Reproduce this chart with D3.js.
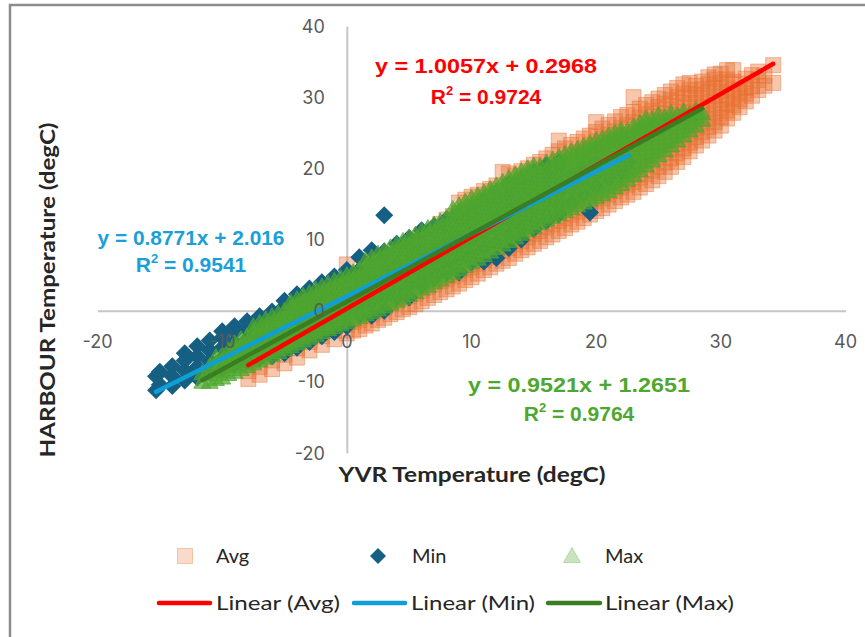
<!DOCTYPE html>
<html><head><meta charset="utf-8">
<script src="https://cdn.jsdelivr.net/npm/d3@7"></script>
<style>body{margin:0;background:#fff;} svg{display:block;}</style>
</head><body>
<svg id="chart" width="865" height="637"></svg>
<script>
// ---------- data ----------
const xTicks = [-20,-10,0,10,20,30,40];
const yTicks = [-20,-10,0,10,20,30,40];
const seriesNames = ["Avg","Min","Max"];
const trendNames = ["Linear (Avg)","Linear (Min)","Linear (Max)"];
const slopes = [1.0057, 0.8771, 0.9521];
const intercepts = [0.2968, 2.016, 1.2651];
const r2 = ["0.9724","0.9541","0.9764"];
const xTitle = "YVR Temperature (degC)";
const yTitle = "HARBOUR Temperature (degC)";

// Avg: YVR x value, with the HARBOUR y values read at that x
const avgX = [-7.9,-7,-6,-5,-4,-3,-2,-1,0,0.5,1,1.5,2,2.5,3,3.5,4,4.5,5,5.5,6,6.5,7,7.5,8,8.5,9,9.5,10,10.5,11,11.5,12,12.5,13,13.5,14,14.5,15,15.5,16,16.5,17,17.5,18,18.5,19,19.5,20,20.5,21,21.5,22,22.5,23,23.5,24,24.5,25,25.5,26,26.5,27,27.5,28,28.5,29,29.5,30,30.5,31,31.5,32,32.5,33,33.5,34.2];
const avgY = [
 [-9.6,-8.5,-7.4,-6.3],
 [-9.0,-7.9,-6.8,-5.7,-4.6],
 [-8.2,-7.0,-5.9,-4.8,-3.7],
 [-7.4,-6.2,-5.0,-3.9,-2.8],
 [-6.6,-5.3,-4.1,-3.0,-1.8,-0.8],
 [-5.6,-4.4,-3.2,-2.0,-0.9,0.2],
 [-4.8,-3.6,-2.4,-1.2,0.0,1.1],
 [-4.0,-2.8,-1.6,-0.4,0.8,1.9],
 [-3.2,-2.0,-0.8,0.4,1.6,2.8,6.5],
 [-2.8,-1.6,-0.3,1.0,2.2,3.4],
 [-2.6,-1.3,0.0,1.3,2.5,3.7],
 [-2.1,-0.8,0.5,1.8,3.1,4.3],
 [-1.8,-0.5,0.9,2.2,3.5,4.8],
 [-1.3,0.0,1.4,2.7,4.0,5.3],
 [-1.0,0.4,1.8,3.2,4.5,5.8],
 [-0.5,0.9,2.3,3.7,5.0,6.4],
 [-0.2,1.3,2.7,4.1,5.5,6.9],
 [0.2,1.7,3.1,4.6,6.0,7.4],
 [0.5,2.0,3.5,5.0,6.4,7.8,9.2],
 [0.9,2.4,3.9,5.4,6.9,8.3,9.6],
 [1.3,2.8,4.3,5.8,7.3,8.8,10.2],
 [1.8,3.3,4.8,6.3,7.8,9.3,10.7],
 [2.2,3.7,5.2,6.7,8.2,9.7,11.2],
 [2.6,4.1,5.5,7.0,8.4,9.9,11.3,12.2],
 [3.0,4.4,5.8,7.2,8.6,10.0,11.4,12.8],
 [3.4,4.8,6.2,7.7,9.1,10.5,11.9,13.3],
 [3.8,5.2,6.7,8.1,9.5,10.9,12.3,13.7,15.2],
 [4.3,5.7,7.1,8.5,9.9,11.3,12.7,14.1,15.6],
 [4.7,6.1,7.5,8.9,10.3,11.7,13.1,14.5,16.0],
 [5.2,6.6,8.0,9.4,10.8,12.2,13.6,15.0,16.3],
 [5.7,7.1,8.5,9.9,11.3,12.7,14.1,15.5,16.8],
 [6.1,7.5,8.9,10.3,11.7,13.1,14.5,15.9,17.1],
 [6.6,8.0,9.4,10.8,12.2,13.6,15.0,16.4,17.6],
 [7.0,8.4,9.8,11.2,12.6,14.0,15.4,16.8,19.5],
 [7.4,8.8,10.3,11.7,13.1,14.5,15.9,17.3,19.3],
 [8.0,9.3,10.7,12.1,13.5,14.9,16.3,17.7,19.0],
 [8.5,9.8,11.2,12.6,14.0,15.4,16.8,18.2,19.6],
 [8.9,10.3,11.7,13.1,14.5,15.9,17.3,18.7,20.0],
 [9.4,10.8,12.2,13.6,15.0,16.4,17.8,19.2,20.5],
 [9.8,11.2,12.6,14.0,15.4,16.8,18.2,19.6,20.9],
 [10.3,11.7,13.1,14.5,15.9,17.3,18.7,20.1,21.4],
 [10.7,12.1,13.5,14.9,16.3,17.7,19.1,20.5,21.9],
 [11.2,12.6,14.0,15.4,16.8,18.2,19.6,21.0,22.4,23.9],
 [11.6,13.0,14.4,15.8,17.2,18.6,20.0,21.4,22.8],
 [12.1,13.5,14.9,16.3,17.7,19.1,20.5,21.9,23.3],
 [12.5,13.9,15.3,16.7,18.1,19.5,20.9,22.3,23.7],
 [13.0,14.4,15.8,17.2,18.6,20.0,21.4,22.8,24.2],
 [13.5,14.9,16.3,17.7,19.1,20.5,21.9,23.3,24.6],
 [14.0,15.4,16.8,18.2,19.6,21.0,22.4,23.8,25.1,26.5],
 [14.4,15.8,17.2,18.6,20.0,21.4,22.8,24.2,25.6],
 [14.9,16.3,17.7,19.1,20.5,21.9,23.3,24.7,26.1],
 [15.4,16.8,18.2,19.6,21.0,22.4,23.8,25.2,26.6],
 [15.9,17.3,18.7,20.1,21.5,22.9,24.3,25.7,27.2],
 [16.3,17.7,19.1,20.5,21.9,23.3,24.7,26.1,27.5],
 [16.7,18.1,19.5,20.9,22.3,23.7,25.1,26.5,27.9,30.0],
 [17.3,18.7,20.1,21.5,22.9,24.3,25.7,27.1,28.4],
 [17.8,19.2,20.6,22.0,23.4,24.8,26.2,27.6,28.9],
 [18.3,19.7,21.1,22.5,23.9,25.3,26.7,28.1,29.3],
 [18.9,20.2,21.6,23.0,24.4,25.8,27.2,28.6,29.8],
 [19.5,20.8,22.2,23.5,24.9,26.3,27.7,29.1,30.3],
 [20.2,21.4,22.7,24.0,25.4,26.8,28.2,29.6,30.8],
 [20.9,22.1,23.4,24.7,26.0,27.4,28.7,30.0,31.3],
 [21.6,22.8,24.0,25.3,26.6,27.9,29.2,30.5,31.8],
 [22.4,23.6,24.8,26.0,27.3,28.6,29.8,31.0,32.0],
 [23.2,24.4,25.6,26.8,28.0,29.2,30.4,31.6],
 [23.9,25.1,26.3,27.5,28.7,29.9,31.1,32.2],
 [24.6,25.8,27.0,28.2,29.4,30.6,31.8,32.8],
 [25.3,26.5,27.7,28.9,30.1,31.3,32.5,33.2],
 [26.0,27.2,28.4,29.6,30.8,32.0,33.3],
 [27.0,28.1,29.2,30.3,31.4,32.5,33.8],
 [27.8,28.9,30.0,31.1,32.2,33.8],
 [28.6,29.7,30.8,31.9],
 [29.4,30.5,31.3,32.6],
 [30.2,31.5,33.1],
 [31.0,32.4,33.6],
 [31.6,33.0],
 [32.0,34.5]
];

const minX = [-15.3,-15,-14,-13,-12,-11,-10,-9,-8,-7,-6,-5,-4,-3,-2,-1,0,1,2,3,4,5,6,7,8,9,10,11,12,13,14,15,16,17,18,19,19.5,20,21,22,22.6];
const minY = [
 [-11.2,-9.2],
 [-10.4,-8.6],
 [-10.6,-9.2,-7.8],
 [-9.8,-8.4,-7.0,-6.0],
 [-9.4,-7.9,-6.4,-5.0],
 [-8.6,-7.1,-5.6,-4.2],
 [-8.2,-6.7,-5.2,-3.8,-2.9],
 [-7.6,-6.0,-4.5,-3.0,-2.2],
 [-7.0,-5.5,-4.0,-2.6,-1.5],
 [-6.6,-5.0,-3.5,-2.0,-0.8],
 [-6.4,-4.6,-3.0,-1.5,-0.1],
 [-6.0,-4.2,-2.5,-0.9,0.6,1.4],
 [-5.2,-3.5,-1.8,-0.1,1.4,2.3],
 [-4.4,-2.7,-1.0,0.6,2.1,3.1],
 [-3.6,-1.9,-0.2,1.4,3.0,4.0],
 [-3.0,-1.2,0.6,2.3,3.9,4.8],
 [-2.2,-0.4,1.4,3.1,4.8,5.7],
 [-0.6,0.4,2.2,4.0,5.7,7.5],
 [-0.7,1.2,3.0,4.8,6.6,8.5],
 [0.0,2.0,3.9,5.7,7.5,8.3,13.4],
 [1.9,2.8,4.7,6.5,8.3,9.4],
 [1.9,3.7,5.5,7.3,9.1,10.2],
 [3.6,4.6,6.4,8.2,10.0,11.3],
 [4.6,5.5,7.3,9.1,10.9,11.9],
 [5.4,6.4,8.2,10.0,11.8,12.8],
 [5.4,7.2,9.0,10.8,12.6,13.6],
 [6.8,8.0,9.9,11.8,13.5,14.6],
 [6.9,8.8,10.7,12.6,14.4,15.6],
 [7.4,9.6,11.5,13.4,15.3,16.6],
 [8.8,10.6,12.5,14.4,16.2,17.8],
 [10.0,11.6,13.4,15.2,17.0,18.5],
 [11.5,12.6,14.4,16.2,18.0,19.4],
 [12.6,13.6,15.3,17.0,18.8,20.4],
 [13.6,14.8,16.4,18.0,19.6,20.8],
 [15.2,17.3,19.2],
 [16.4,18.3,20.0],
 [13.8],
 [17.4,19.2,20.8],
 [18.6,20.4],
 [19.6,21.2],
 [21.0]
];

const maxX = [-11.6,-11,-10.5,-10,-9.5,-9,-8.5,-8,-7.5,-7,-6.5,-6,-5.5,-5,-4.5,-4,-3.5,-3,-2.5,-2,-1.5,-1,-0.5,0,0.5,1,1.5,2,2.5,3,3.5,4,4.5,5,5.5,6,6.5,7,7.5,8,8.5,9,9.5,10,10.5,11,11.5,12,12.5,13,13.5,14,14.5,15,15.5,16,16.5,17,17.5,18,18.5,19,19.5,20,20.5,21,21.5,22,22.5,23,23.5,24,24.5,25,25.5,26,26.5,27,27.5,28,28.5];
const maxY = [
 [-10.0,-8.8],
 [-10.0,-8.9,-7.8],
 [-9.6,-8.5,-7.4,-6.5],
 [-9.4,-8.3,-7.2,-6.2],
 [-8.9,-7.8,-6.7,-5.6],
 [-8.6,-7.5,-6.4,-5.3,-4.6],
 [-8.2,-7.1,-6.0,-4.9,-4.0],
 [-7.8,-6.7,-5.6,-4.5,-3.6],
 [-7.4,-6.3,-5.2,-4.1,-3.0,-2.2],
 [-7.0,-5.9,-4.8,-3.7,-2.6,-1.7],
 [-6.6,-5.5,-4.4,-3.3,-2.2,-1.2],
 [-6.2,-5.1,-4.0,-2.9,-1.8,-0.8],
 [-5.8,-4.7,-3.6,-2.5,-1.4,-0.4],
 [-5.4,-4.3,-3.2,-2.1,-1.0,0.0],
 [-5.0,-3.9,-2.8,-1.7,-0.6,0.4,1.2],
 [-4.6,-3.5,-2.4,-1.3,-0.2,0.8,1.6],
 [-4.2,-3.1,-2.0,-0.9,0.2,1.2,2.1],
 [-3.8,-2.7,-1.6,-0.5,0.6,1.6,2.5],
 [-3.4,-2.3,-1.2,-0.1,1.0,2.0,3.0],
 [-3.0,-1.9,-0.8,0.3,1.4,2.5,3.4],
 [-2.6,-1.5,-0.4,0.7,1.8,2.8,3.8],
 [-2.3,-1.2,-0.1,1.0,2.1,3.2,4.2],
 [-1.9,-0.8,0.3,1.4,2.5,3.6,4.6],
 [-1.6,-0.4,0.7,1.8,2.9,4.0,5.0],
 [-1.2,-0.1,1.0,2.1,3.2,4.3,5.4],
 [-0.9,0.3,1.4,2.5,3.6,4.7,5.8],
 [-0.5,0.6,1.8,2.9,4.0,5.1,6.2,7.1],
 [-0.2,1.0,2.2,3.3,4.4,5.5,6.6,7.5],
 [0.2,1.4,2.6,3.7,4.8,5.9,7.0,8.0],
 [0.6,1.8,3.0,4.1,5.2,6.3,7.4,8.4],
 [1.0,2.2,3.4,4.6,5.7,6.8,7.9,8.9],
 [1.4,2.6,3.8,5.0,6.1,7.2,8.3,9.3],
 [1.8,3.0,4.2,5.4,6.6,7.7,8.8,9.8],
 [2.2,3.4,4.6,5.8,7.0,8.1,9.2,10.3],
 [2.6,3.8,5.0,6.2,7.4,8.5,9.6,10.7],
 [3.1,4.3,5.5,6.7,7.9,9.0,10.1,11.2],
 [3.5,4.7,5.9,7.1,8.3,9.4,10.5,11.6],
 [4.0,5.2,6.4,7.6,8.8,9.9,11.0,12.1],
 [4.4,5.6,6.8,8.0,9.2,10.3,11.4,12.5],
 [4.9,6.1,7.3,8.5,9.7,10.8,11.9,13.0],
 [5.3,6.5,7.7,8.9,10.1,11.2,12.3,13.4,14.3],
 [5.8,7.0,8.2,9.4,10.6,11.7,12.8,13.9,14.8],
 [6.3,7.5,8.7,9.9,11.1,12.2,13.3,14.4,15.3],
 [6.8,8.0,9.2,10.4,11.6,12.7,13.8,14.9,15.8],
 [7.3,8.5,9.7,10.9,12.0,13.1,14.2,15.3,16.2],
 [7.8,9.0,10.2,11.4,12.5,13.6,14.7,15.8,16.6],
 [8.3,9.5,10.7,11.9,13.0,14.1,15.2,16.3,17.1],
 [8.8,10.0,11.2,12.4,13.5,14.6,15.7,16.8,17.6],
 [9.3,10.5,11.7,12.9,14.0,15.1,16.2,17.3,18.1],
 [9.8,11.0,12.2,13.4,14.5,15.6,16.7,17.8,18.6],
 [10.3,11.5,12.7,13.9,15.0,16.1,17.2,18.3,19.1],
 [10.8,12.0,13.2,14.4,15.5,16.6,17.7,18.8,19.6],
 [11.3,12.5,13.7,14.9,16.0,17.1,18.2,19.3,20.0],
 [11.8,13.0,14.2,15.4,16.5,17.6,18.7,19.8,20.4],
 [12.3,13.5,14.7,15.9,17.0,18.1,19.2,20.3],
 [12.8,14.0,15.2,16.4,17.5,18.6,19.7,20.8],
 [13.2,14.4,15.6,16.8,18.0,19.1,20.2,21.2],
 [13.6,14.8,16.0,17.2,18.4,19.5,20.6,21.6],
 [14.0,15.2,16.4,17.6,18.8,19.9,21.0,22.0],
 [14.4,15.6,16.8,18.0,19.2,20.3,21.4,22.4],
 [14.8,16.0,17.2,18.4,19.6,20.7,21.8,22.7],
 [15.2,16.4,17.6,18.8,20.0,21.1,22.2,23.1],
 [15.6,16.8,18.0,19.2,20.4,21.5,22.6,23.5],
 [16.0,17.2,18.4,19.6,20.8,21.9,23.0,23.9],
 [16.4,17.6,18.8,20.0,21.2,22.3,23.4,24.2],
 [16.8,18.0,19.2,20.4,21.6,22.7,23.8,24.6],
 [17.3,18.5,19.7,20.9,22.1,23.2,24.2,25.0],
 [17.8,19.0,20.2,21.4,22.6,23.7,24.7,25.4],
 [18.4,19.6,20.8,22.0,23.2,24.3,25.3],
 [19.0,20.2,21.4,22.6,23.8,24.9,25.9],
 [19.7,20.9,22.1,23.3,24.5,25.6,26.4],
 [20.4,21.6,22.8,24.0,25.2,26.3,27.0],
 [21.1,22.3,23.5,24.7,25.9,26.9],
 [21.8,23.0,24.2,25.4,26.6,27.5],
 [22.5,23.7,24.9,26.1,27.2],
 [23.2,24.4,25.6,26.8,27.8],
 [23.9,25.1,26.3,27.4],
 [24.6,25.8,27.0,28.0],
 [25.3,26.5,27.6],
 [26.0,27.2,28.2],
 [26.8,27.8]
];

// ---------- drawing ----------
const svg = d3.select("#chart");
const FONT = "Lato, Inter, 'Open Sans', sans-serif";
const TICKFONT = "Inter, 'Open Sans', sans-serif";
const EQFONT = "'Liberation Sans', Arial, sans-serif";
const x = d3.scaleLinear().domain([-20,40]).range([97.5,845.5]);
const y = d3.scaleLinear().domain([-20,40]).range([453,26]);

// frame
svg.append("rect").attr("x",10).attr("y",5).attr("width",880).attr("height",660)
  .attr("fill","#fff").attr("stroke","#8c8c8c").attr("stroke-width",2.5);

// axis lines (below data)
const gx = svg.append("g").attr("transform",`translate(0,${y(0)})`)
  .call(d3.axisBottom(x).tickValues(xTicks).tickSize(0).tickSizeOuter(0).tickFormat(""));
const gy = svg.append("g").attr("transform",`translate(${x(0)},0)`)
  .call(d3.axisLeft(y).tickValues(yTicks).tickSize(0).tickSizeOuter(0).tickFormat(""));
[gx,gy].forEach(g=>g.select(".domain").attr("stroke","#c6c6c6").attr("stroke-width",2));

const toPts = (xs,ys)=>xs.flatMap((xv,i)=>ys[i].map(yv=>[xv,yv]));
const avgPts = toPts(avgX,avgY), minPts = toPts(minX,minY), maxPts = toPts(maxX,maxY);

const orange = "#E97132", navy = "#156082", green = "#4EA72E";
const sq = "M-7.5,-7.5H7.5V7.5H-7.5Z";
const dia = "M0,-9L9,0L0,9L-9,0Z";
const tri = "M0,-8.5L8.5,6.5L-8.5,6.5Z";

svg.append("g").selectAll("path").data(avgPts).join("path")
  .attr("d",sq).attr("transform",d=>`translate(${x(d[0])},${y(d[1])})`)
  .attr("fill",orange).attr("fill-opacity",0.4)
  .attr("stroke",orange).attr("stroke-opacity",0.45).attr("stroke-width",1);
svg.append("g").selectAll("path").data(minPts).join("path")
  .attr("d",dia).attr("transform",d=>`translate(${x(d[0])},${y(d[1])})`)
  .attr("fill",navy);
svg.append("g").selectAll("path").data(maxPts).join("path")
  .attr("d",tri).attr("transform",d=>`translate(${x(d[0])},${y(d[1])})`)
  .attr("fill",green).attr("fill-opacity",0.7)
  .attr("stroke",green).attr("stroke-opacity",0.7).attr("stroke-width",1);

// trend lines
const trendColors = ["#FF0000","#0F9ED5","#3B7D23"];
const xsets = [avgX,minX,maxX];
xsets.forEach((xs,i)=>{
  const [a,b] = d3.extent(xs);
  svg.append("line")
    .attr("x1",x(a)).attr("y1",y(slopes[i]*a+intercepts[i]))
    .attr("x2",x(b)).attr("y2",y(slopes[i]*b+intercepts[i]))
    .attr("stroke",trendColors[i]).attr("stroke-width",4.5).attr("stroke-linecap","round");
});

// tick labels (on top)
svg.append("g").selectAll("text").data(xTicks).join("text")
  .attr("x",d=>x(d)).attr("y",y(0)+37).attr("text-anchor","middle")
  .attr("font-family",TICKFONT).attr("font-size",18).attr("fill","#595959").text(d=>d);
svg.append("g").selectAll("text").data(yTicks).join("text")
  .attr("x",x(0)-22).attr("y",d=>y(d)+6.5).attr("text-anchor","end")
  .attr("font-family",TICKFONT).attr("font-size",18).attr("fill","#595959").text(d=>d);

// axis titles
svg.append("text").attr("x",472).attr("y",482).attr("text-anchor","middle")
  .attr("font-family",FONT).attr("font-weight","bold").attr("font-size",20).attr("fill","#262626")
  .attr("textLength",267).attr("lengthAdjust","spacingAndGlyphs").text(xTitle);
svg.append("text").attr("transform","translate(55,290) rotate(-90)").attr("text-anchor","middle")
  .attr("font-family",FONT).attr("font-weight","bold").attr("font-size",20).attr("fill","#262626")
  .attr("textLength",335).attr("lengthAdjust","spacingAndGlyphs").text(yTitle);

// trendline equations
const eqColors = ["#FF0000","#1A9FD9","#4EA72E"];
const eqPos = [[486,73,104,222,125],[191,245,272,187,112],[579,392,421,222,124]];
eqPos.forEach((p,i)=>{
  svg.append("text").attr("x",p[0]).attr("y",p[1]).attr("text-anchor","middle")
    .attr("font-family",EQFONT).attr("font-weight","bold").attr("font-size",21).attr("fill",eqColors[i])
    .attr("textLength",p[3]).attr("lengthAdjust","spacingAndGlyphs")
    .text(`y = ${slopes[i]}x + ${intercepts[i]}`);
  const t = svg.append("text").attr("x",p[0]).attr("y",p[2]).attr("text-anchor","middle")
    .attr("font-family",EQFONT).attr("font-weight","bold").attr("font-size",21).attr("fill",eqColors[i]);
  t.append("tspan").text("R");
  t.append("tspan").attr("font-size",13).attr("dy",-9).text("2");
  t.append("tspan").attr("dy",9).text(` = ${r2[i]}`);
});

// legend
const lg = svg.append("g");
const mkX = [185,378,572], txX = [216,412,605], row1 = 556, row2 = 603;
const mkPaths = [sq,dia,tri];
seriesNames.forEach((n,i)=>{
  const m = lg.append("path").attr("d",mkPaths[i]).attr("transform",`translate(${mkX[i]},${row1})`);
  if(i===0) m.attr("fill",orange).attr("fill-opacity",0.25).attr("stroke",orange).attr("stroke-opacity",0.35);
  if(i===1) m.attr("d","M0,-8L8,0L0,8L-8,0Z").attr("fill",navy);
  if(i===2) m.attr("fill",green).attr("fill-opacity",0.3).attr("stroke",green).attr("stroke-opacity",0.3);
  lg.append("text").attr("x",txX[i]).attr("y",row1+7).attr("font-family",FONT).attr("font-size",20)
    .attr("fill","#262626").text(n);
});
const lnX = [[159,210],[354,405],[548,600]], ltX = [216,411,605], ltW = [124,124,129];
trendNames.forEach((n,i)=>{
  lg.append("line").attr("x1",lnX[i][0]).attr("x2",lnX[i][1]).attr("y1",row2).attr("y2",row2)
    .attr("stroke",trendColors[i]).attr("stroke-width",4.5).attr("stroke-linecap","round");
  lg.append("text").attr("x",ltX[i]).attr("y",row2+7).attr("font-family",FONT).attr("font-size",20)
    .attr("fill","#262626").attr("textLength",ltW[i]).attr("lengthAdjust","spacingAndGlyphs").text(n);
});
</script>
</body></html>
